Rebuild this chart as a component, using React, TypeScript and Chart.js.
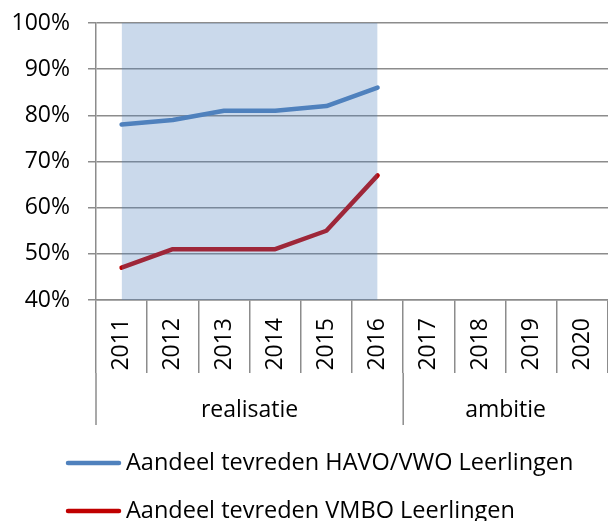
import React, { useEffect, useRef } from 'react';
import { Chart, registerables } from 'chart.js';

Chart.register(...registerables);

// ---- data ----
const years = ['2011', '2012', '2013', '2014', '2015', '2016', '2017', '2018', '2019', '2020'];
const havoVwo = [78, 79, 81, 81, 82, 86, null, null, null, null];
const vmbo = [47, 51, 51, 51, 55, 67, null, null, null, null];
const realisatieBand = [100, 100, 100, 100, 100, 100, null, null, null, null];
const seriesNames = ['Aandeel tevreden HAVO/VWO Leerlingen', 'Aandeel tevreden VMBO Leerlingen'];
const groupNames = ['realisatie', 'ambitie'];
const groupSizes = [6, 4];
const yMin = 40;
const yMax = 100;
const yStep = 10;

// ---- style ----
const FONT = '"Open Sans", sans-serif';
const FS = 23;
const LEGEND_FS = 23.5;
const GRID = '#8c8c8c';
const X_TICK_LEN = 73;

const groupPlugin = {
  id: 'groupLabels',
  afterDraw(chart: any) {
    const { ctx } = chart;
    const xs = chart.scales.x;
    const y0 = xs.top + X_TICK_LEN;
    const y1 = xs.bottom;
    ctx.save();
    ctx.strokeStyle = GRID;
    ctx.lineWidth = 1.5;
    ctx.fillStyle = '#000';
    ctx.font = `${FS}px ${FONT}`;
    ctx.textAlign = 'center';
    ctx.textBaseline = 'alphabetic';
    let start = 0;
    groupSizes.forEach((n, i) => {
      const left = xs.getPixelForValue(start - 0.5);
      const right = xs.getPixelForValue(start + n - 0.5);
      ctx.beginPath();
      ctx.moveTo(left, y0);
      ctx.lineTo(left, y1);
      ctx.stroke();
      ctx.fillText(groupNames[i], (left + right) / 2, y1 - 8);
      start += n;
    });
    ctx.restore();
  },
};

const legendPlugin = {
  id: 'customLegend',
  afterDraw(chart: any) {
    const { ctx } = chart;
    const xs = chart.scales.x;
    const left = chart.chartArea.left - 30;
    const lineLen = 55;
    const ds = chart.data.datasets.filter((d: any) => !d.isBand);
    ctx.save();
    ctx.font = `${LEGEND_FS}px ${FONT}`;
    ctx.textBaseline = 'alphabetic';
    ctx.textAlign = 'left';
    ctx.fillStyle = '#000';
    ds.forEach((d: any, i: number) => {
      const y = xs.bottom + 38 + i * 48;
      ctx.strokeStyle = d.borderColor;
      ctx.lineWidth = 4.5;
      ctx.lineCap = 'round';
      ctx.beginPath();
      ctx.moveTo(left + 2, y);
      ctx.lineTo(left + lineLen - 2, y);
      ctx.stroke();
      ctx.fillText(d.label, left + lineLen + 5, y + 7);
    });
    ctx.restore();
  },
};

export default function App() {
  const ref = useRef<HTMLCanvasElement | null>(null);
  useEffect(() => {
    if (!ref.current) return;
    const chart = new Chart(ref.current, {
      type: 'line',
      data: {
        labels: years,
        datasets: [
          {
            label: seriesNames[0],
            data: havoVwo,
            borderColor: '#4F81BD',
            borderWidth: 4.5,
            pointRadius: 0,
            tension: 0,
            borderCapStyle: 'round',
            borderJoinStyle: 'round',
            fill: false,
            order: 1,
          },
          {
            label: seriesNames[1],
            data: vmbo,
            borderColor: '#C00000',
            borderWidth: 4.5,
            pointRadius: 0,
            tension: 0,
            borderCapStyle: 'round',
            borderJoinStyle: 'round',
            fill: false,
            order: 1,
          },
          {
            label: groupNames[0],
            data: realisatieBand,
            borderColor: 'rgba(0,0,0,0)',
            borderWidth: 0,
            backgroundColor: 'rgba(79,129,189,0.3)',
            pointRadius: 0,
            fill: 'start',
            order: 0,
            isBand: true,
          } as any,
        ],
      },
      options: {
        animation: false,
        responsive: true,
        maintainAspectRatio: false,
        layout: { padding: { top: 23, right: 0, bottom: 96, left: 0 } },
        plugins: { legend: { display: false }, tooltip: { enabled: false } },
        scales: {
          x: {
            type: 'category',
            offset: true,
            grid: {
              offset: true,
              drawOnChartArea: false,
              drawTicks: true,
              tickLength: X_TICK_LEN,
              color: GRID,
              lineWidth: 1.5,
            },
            border: { display: true, color: GRID, width: 1.5 },
            ticks: {
              maxRotation: 90,
              minRotation: 90,
              autoSkip: false,
              padding: -55,
              color: '#000',
              font: { family: FONT, size: FS },
            },
            afterFit: (s: any) => {
              s.height = 125;
            },
          },
          y: {
            min: yMin,
            max: yMax,
            ticks: {
              stepSize: yStep,
              padding: 18,
              color: '#000',
              font: { family: FONT, size: FS },
              callback: (v: any) => v + '%',
            },
            grid: { color: GRID, lineWidth: 1.5, tickLength: 8, drawTicks: true },
            border: { display: true, color: GRID, width: 1.5 },
            afterFit: (s: any) => {
              s.width = 96;
              s.paddingTop = 0;
              s.paddingBottom = 0;
            },
          },
        },
      } as any,
      plugins: [groupPlugin, legendPlugin],
    });
    return () => chart.destroy();
  }, []);
  return (
    <div style={{ position: 'fixed', left: 0, top: 0, width: 608, height: 521, background: '#fff' }}>
      <canvas ref={ref} />
    </div>
  );
}
